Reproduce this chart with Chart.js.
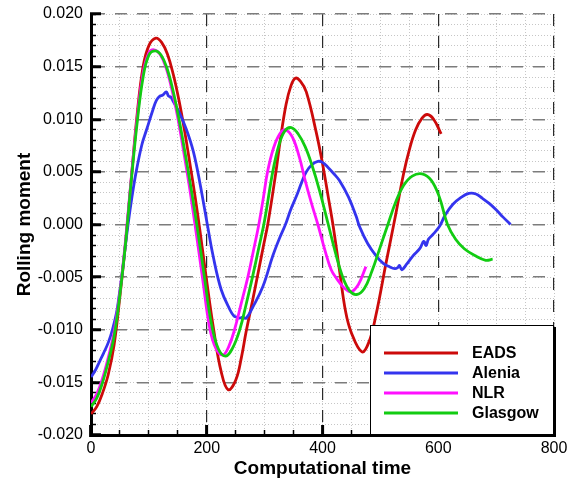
<!DOCTYPE html>
<html>
<head>
<meta charset="utf-8">
<title>Rolling moment</title>
<script src="https://cdn.jsdelivr.net/npm/chart.js@4.4.0/dist/chart.umd.min.js"></script>
<style>
html, body { margin: 0; padding: 0; background: #fff; }
#wrap { width: 571px; height: 484px; }
</style>
</head>
<body>
<div id="wrap"><canvas id="chart" width="571" height="484"></canvas></div>
<script>
const FONT = "'Liberation Sans', Arial, Helvetica, sans-serif";

// EADS
const eadsT = [0,10,20,30,40,50,60,70,80,90,100,112,122,132,142,152,162,172,180,188,199,212,225,237,250,260,268,280,288,297,306,319,327,337,345,353,362,372,389,400,410,418,429,440,450,468,480,492,510,527,540,550,561,572,581,592,605];
const eadsM = [-0.0180,-0.0173,-0.0160,-0.0142,-0.0114,-0.0068,-0.0016,0.0046,0.0106,0.0150,0.0170,0.0177,0.0173,0.0162,0.0143,0.0118,0.0088,0.0054,0.0026,-0.0005,-0.0050,-0.0100,-0.0140,-0.0157,-0.0148,-0.0126,-0.0102,-0.0070,-0.0048,-0.0023,0.0002,0.0048,0.0080,0.0114,0.0131,0.0139,0.0136,0.0126,0.0088,0.0058,0.0026,0.0000,-0.0042,-0.0083,-0.0103,-0.0121,-0.0112,-0.0087,-0.0036,0.0011,0.0048,0.0071,0.0090,0.0101,0.01045,0.0100,0.0086];

// Alenia
const aleniaT = [0,8,15,22,30,37,44,48,53,58,64,71,78,88,96,107,113,119,124,130,134,138,142,152,165,177,188,201,211,225,240,247,252,257,262,268,280,297,314,325,336,345,355,364,372,382,392,400,410,420,429,445,458,464,478,493,505,515,525,530,533,537,545,556,568,575,579,583,590,602,612,625,640,653,665,676,688,700,712,725];
const aleniaM = [-0.0145,-0.0138,-0.0130,-0.0122,-0.0112,-0.0100,-0.0084,-0.0070,-0.0050,-0.0027,0.0000,0.0027,0.0050,0.0076,0.0090,0.0109,0.0118,0.0122,0.0123,0.0126,0.0122,0.0121,0.0117,0.0107,0.0090,0.0069,0.0040,0.0000,-0.0030,-0.0062,-0.0081,-0.0087,-0.0088,-0.0089,-0.0088,-0.0089,-0.0078,-0.0059,-0.0030,-0.0014,0.0000,0.0014,0.0027,0.0040,0.0050,0.0057,0.0060,0.0059,0.0054,0.0048,0.0042,0.0026,0.0008,-0.0002,-0.0018,-0.0030,-0.0037,-0.0040,-0.0042,-0.0041,-0.0039,-0.0043,-0.0038,-0.0030,-0.0023,-0.0016,-0.0020,-0.0014,-0.0010,-0.0002,0.0009,0.0019,0.0026,0.00295,0.0029,0.0025,0.0020,0.0014,0.0007,0.0000];

// NLR
const nlrT = [0,10,20,30,40,50,60,70,80,90,100,109,119,129,139,149,159,170,181,193,205,216,228,238,248,260,271,281,290,298,305,315,326,336,348,360,370,381,392,405,415,424,437,449,462,475];
const nlrM = [-0.01695,-0.0161,-0.0146,-0.0126,-0.0102,-0.0064,-0.0013,0.0047,0.0102,0.0144,0.0163,0.0166,0.0162,0.0150,0.0130,0.0104,0.0073,0.0036,-0.0005,-0.0052,-0.0098,-0.0118,-0.0124,-0.0116,-0.0100,-0.0074,-0.0050,-0.0024,0.0000,0.0026,0.0050,0.0072,0.0086,0.0090,0.0083,0.0064,0.0042,0.0020,0.0000,-0.0026,-0.0043,-0.0051,-0.0060,-0.0064,-0.0057,-0.0040];

// Glasgow
const glasgowT = [0,10,20,30,40,50,60,70,80,90,100,111,121,131,141,151,161,173,185,196,208,220,233,245,257,268,279,290,300,314,325,335,346,358,370,382,395,410,422,435,447,459,472,485,500,513,527,540,555,572,588,602,616,630,645,665,682,694];
const glasgowM = [-0.0173,-0.0165,-0.0150,-0.0130,-0.0106,-0.0066,-0.0016,0.0044,0.0098,0.0140,0.0161,0.0165,0.0161,0.0149,0.0129,0.0103,0.0073,0.0034,-0.0008,-0.0050,-0.0094,-0.0118,-0.0125,-0.0117,-0.0100,-0.0076,-0.0050,-0.0022,0.0004,0.0050,0.0076,0.0089,0.0092,0.0086,0.0074,0.0056,0.0032,0.0000,-0.0026,-0.0050,-0.0063,-0.00665,-0.0061,-0.0045,-0.0021,0.0000,0.0022,0.0037,0.0046,0.00482,0.0042,0.0026,0.0000,-0.0014,-0.0023,-0.0030,-0.0034,-0.0033];

const pts = (t, m) => t.map((v, i) => ({ x: v, y: m[i] }));
const line = (label, t, m, color, order) => ({
    label, data: pts(t, m), borderColor: color, backgroundColor: color,
    borderWidth: 2.8, pointRadius: 0, fill: false, tension: 0.4,
    xAxisID: 'x', yAxisID: 'y', order
});

// legend box in the lower right corner of the plot
const legendBox = {
    id: 'legendBox',
    afterDatasetsDraw(chart) {
        const { ctx, chartArea: a } = chart;
        const w = 184, h = 110;
        const x0 = a.right - w, y0 = a.bottom - h;
        ctx.save();
        ctx.fillStyle = '#000';
        ctx.fillRect(x0 + 2, y0 + 2, w, h);
        ctx.fillStyle = '#fff';
        ctx.fillRect(x0, y0, w, h);
        ctx.strokeStyle = '#000';
        ctx.lineWidth = 1;
        ctx.strokeRect(x0 + 0.5, y0 + 0.5, w - 1, h - 1);
        ctx.font = 'bold 16px ' + FONT;
        ctx.textBaseline = 'middle';
        chart.data.datasets.forEach((ds, i) => {
            const y = y0 + 28 + i * 20;
            ctx.strokeStyle = ds.borderColor;
            ctx.lineWidth = 2.8;
            ctx.beginPath();
            ctx.moveTo(x0 + 14, y);
            ctx.lineTo(x0 + 88, y);
            ctx.stroke();
            ctx.fillStyle = '#000';
            ctx.fillText(ds.label, x0 + 102, y + 1);
        });
        ctx.restore();
    }
};

const fmt = v => (Math.abs(v) < 1e-10 ? 0 : v).toFixed(3);

// fixed axis boxes, label overflow must not push the plot area in
const fixX = h => s => { s.height = h; s.paddingLeft = 0; s.paddingRight = 0; };
const fixY = w => s => { s.width = w; s.paddingTop = 0; s.paddingBottom = 0; };

new Chart(document.getElementById('chart'), {
    type: 'line',
    data: {
        datasets: [
            line('EADS', eadsT, eadsM, '#cc0a0a', 3),
            line('Alenia', aleniaT, aleniaM, '#3434ee', 2),
            line('NLR', nlrT, nlrM, '#ff10ff', 1),
            line('Glasgow', glasgowT, glasgowM, '#12cc12', 0)
        ]
    },
    options: {
        responsive: false,
        animation: false,
        layout: { padding: { top: 14, right: 17, left: 0, bottom: 0 } },
        plugins: { legend: { display: false }, tooltip: { enabled: false } },
        scales: {
            x: {
                type: 'linear', position: 'bottom', min: 0, max: 800, weight: 1,
                ticks: { stepSize: 200, padding: 14, maxRotation: 0, color: '#000', font: { family: FONT, size: 16 } },
                grid: { color: '#2a2a2a', lineWidth: 1.2, tickLength: -10, tickWidth: 3, tickColor: '#000' },
                border: { display: true, color: '#000', width: 3, dash: [12, 10] },
                title: { display: true, text: 'Computational time', color: '#000', font: { family: FONT, size: 19, weight: 'bold' }, padding: { top: 0, bottom: 4 } },
                afterFit: fixX(49)
            },
            xMinor: {
                type: 'linear', position: 'bottom', min: 0, max: 800, weight: 0,
                ticks: { stepSize: 50, display: false },
                grid: { color: '#c6c6c6', lineWidth: 1, z: -2, tickLength: -5, tickWidth: 1.5, tickColor: '#000' },
                border: { display: false, dash: [1, 2] },
                afterFit: fixX(0)
            },
            y: {
                type: 'linear', position: 'left', min: -0.02, max: 0.02, weight: 1,
                ticks: { stepSize: 0.005, padding: 18, color: '#000', font: { family: FONT, size: 16 }, callback: fmt },
                grid: { color: '#7c7c7c', lineWidth: 1.5, tickLength: -10, tickWidth: 3, tickColor: '#000' },
                border: { display: true, color: '#000', width: 3, dash: [12, 10] },
                title: { display: true, text: 'Rolling moment', color: '#000', font: { family: FONT, size: 19, weight: 'bold' }, padding: { top: 13, bottom: 0 } },
                afterFit: fixY(91)
            },
            yMinor: {
                type: 'linear', position: 'left', min: -0.02, max: 0.02, weight: 0,
                ticks: { stepSize: 0.001, display: false },
                grid: { color: '#c6c6c6', lineWidth: 1, z: -2, tickLength: -5, tickWidth: 1.5, tickColor: '#000' },
                border: { display: false, dash: [1, 2] },
                afterFit: fixY(0)
            }
        }
    },
    plugins: [legendBox]
});
</script>
</body>
</html>
